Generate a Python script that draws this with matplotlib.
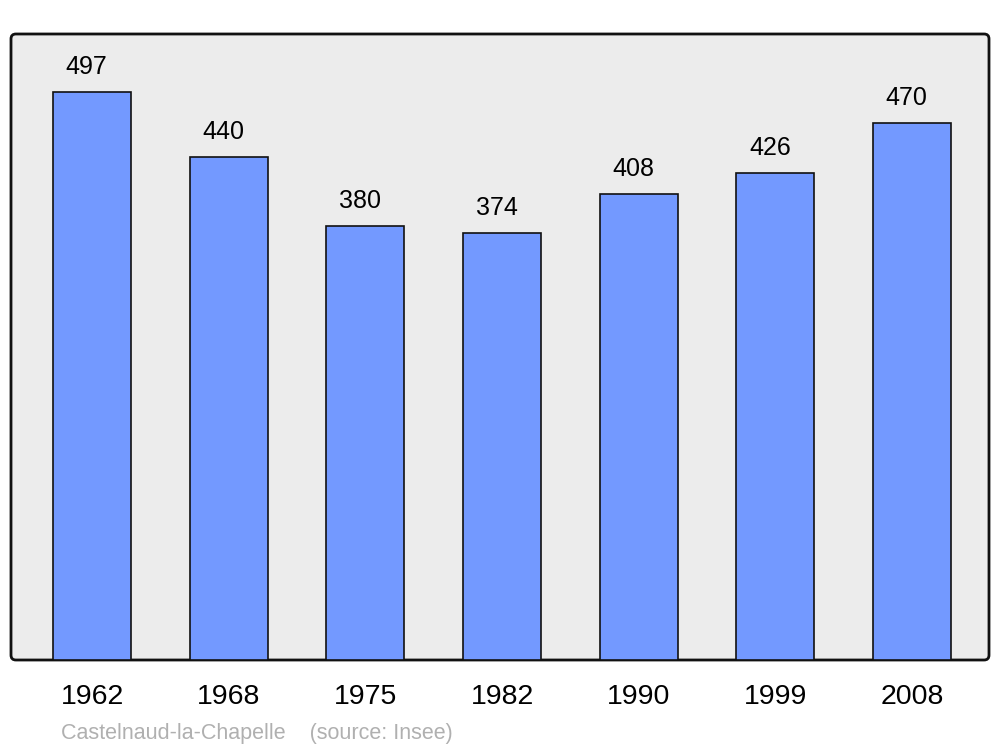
import matplotlib.pyplot as plt
from matplotlib.patches import FancyBboxPatch

years = ["1962", "1968", "1975", "1982", "1990", "1999", "2008"]
population = [497, 440, 380, 374, 408, 426, 470]
commune = "Castelnaud-la-Chapelle"
source = "(source: Insee)"

plt.rcParams['font.family'] = ['Liberation Sans', 'DejaVu Sans']

W, H = 1000, 747
fig = plt.figure(figsize=(W / 100, H / 100), dpi=100)

# axes box in pixels: left 11, right 989, top 34, bottom 660
ax = fig.add_axes([11 / W, (H - 660) / H, 978 / W, 626 / H])
ax.set_facecolor('none')

frame = FancyBboxPatch((0, 0), 1, 1,
                       boxstyle="round,pad=0,rounding_size=0.005",
                       mutation_aspect=978 / 626,
                       transform=ax.transAxes, facecolor='#ececec',
                       edgecolor='#111111', linewidth=2, zorder=0,
                       clip_on=False)
ax.add_patch(frame)

x = list(range(len(years)))
ax.bar(x, population, width=0.57, color='#7399ff', edgecolor='#111111',
       linewidth=1.2, zorder=2)

for xi, v in zip(x, population):
    ax.annotate(str(v), (xi, v), xytext=(-4, 13), textcoords='offset points',
                ha='center', va='baseline', fontsize=18)

ax.set_xlim(-0.593, 6.563)
ax.set_ylim(0, 548)
for s in ax.spines.values():
    s.set_visible(False)
ax.set_yticks([])
ax.set_xticks(x)
ax.set_xticklabels(years, fontsize=20.5)
ax.tick_params(axis='x', length=0, pad=17.5)

fig.text(61 / W, 1 - 733 / H, commune + "    " + source, fontsize=15.5,
         color='#b0b0b0', va='center', ha='left')

fig.savefig('out.png', dpi=100)
